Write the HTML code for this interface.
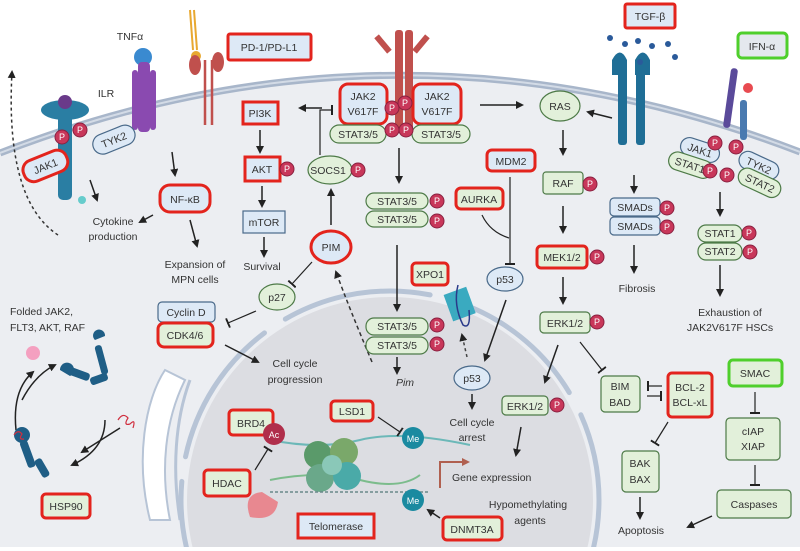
<!DOCTYPE html>
<html><head><meta charset="utf-8"><style>
html,body{margin:0;padding:0;background:#fff;width:800px;height:551px;overflow:hidden}
svg{display:block}
text{font-family:"Liberation Sans",sans-serif;font-size:10.5px;fill:#333}
.g{fill:#e2f0da;stroke:#4d7a47;stroke-width:1.2}
.b{fill:#dde9f6;stroke:#4a6a8a;stroke-width:1.2}
.rg{fill:#e2f0da;stroke:#e3241d;stroke-width:3}
.rb{fill:#dde9f6;stroke:#e3241d;stroke-width:3}
.gg{fill:#e2f0da;stroke:#4fcf2c;stroke-width:3}
.gb{fill:#e4e8ee;stroke:#4fcf2c;stroke-width:3}
.ar{stroke:#222;stroke-width:1.5;fill:none;marker-end:url(#ah)}
.inh{stroke:#222;stroke-width:1.2;fill:none;marker-end:url(#tb)}
.P{fill:#c8375a;stroke:#8a2040;stroke-width:1}
.pt{fill:#fff;font-size:9px;text-anchor:middle}
.c{text-anchor:middle}
</style></head><body>
<svg width="800" height="551" viewBox="0 0 800 551">
<defs>
<marker id="ah" markerWidth="8" markerHeight="8" refX="6" refY="4" orient="auto" markerUnits="userSpaceOnUse"><path d="M0,0 L8,4 L0,8 z" fill="#222"/></marker>
<marker id="tb" markerWidth="2" markerHeight="10" refX="1" refY="5" orient="auto" markerUnits="userSpaceOnUse"><rect x="0" y="0" width="2" height="10" fill="#222"/></marker>
<marker id="ahr" markerWidth="8" markerHeight="8" refX="6" refY="4" orient="auto" markerUnits="userSpaceOnUse"><path d="M0,0 L8,4 L0,8 z" fill="#b06050"/></marker>
</defs>
<rect width="800" height="551" fill="#fff"/>
<path d="M0,153 Q400,-2 800,152 L800,547 L0,547 z" fill="#eceef2"/>
<clipPath id="cl"><rect x="0" y="0" width="800" height="547"/></clipPath>
<g clip-path="url(#cl)">
<circle cx="390" cy="500" r="203" fill="#dcdde2"/>
<circle cx="390" cy="500" r="209" fill="none" stroke="#b7c4d6" stroke-width="5" stroke-dasharray="150 25" stroke-linecap="round"/>
</g>
<path d="M0,153 Q400,-2 800,152" fill="none" stroke="#a8b6ca" stroke-width="7"/>
<path d="M0,153 Q400,-2 800,152" fill="none" stroke="#d3dbe6" stroke-width="2"/>
<!-- ER -->
<path d="M165,370 C145,400 135,460 150,520 L170,520 C160,470 165,420 185,380 z" fill="#fff" stroke="#b7c4d6" stroke-width="2"/>
<path d="M190,380 C175,420 172,470 180,520" fill="none" stroke="#b7c4d6" stroke-width="3"/>
<!-- receptors -->
<g fill="#2a7ea3"><rect x="58" y="110" width="14" height="90" rx="5"/><ellipse cx="65" cy="110" rx="24" ry="10"/><circle cx="65" cy="102" r="7" fill="#6a3a8a"/><circle cx="82" cy="200" r="4" fill="#6cc"/></g>
<g fill="#8a4ab0"><circle cx="143" cy="57" r="9" fill="#3a8ad0"/><rect x="138" y="62" width="12" height="70" rx="4"/><rect x="132" y="70" width="6" height="60" rx="3"/><rect x="150" y="70" width="6" height="60" rx="3"/></g>
<g stroke="#e8a830" stroke-width="2" fill="none"><path d="M190,10 L193,50 M194,10 L197,50"/></g>
<circle cx="196" cy="56" r="5" fill="#e8a830"/>
<g stroke="#c0504d" stroke-width="2.5" fill="none"><path d="M205,60 L205,125 M212,60 L212,125"/></g>
<ellipse cx="195" cy="65" rx="6" ry="10" fill="#c0504d"/><ellipse cx="218" cy="62" rx="6" ry="10" fill="#c0504d"/>
<g fill="#c0504d"><rect x="395" y="30" width="8" height="100" rx="3"/><rect x="405" y="30" width="8" height="100" rx="3"/><rect x="380" y="34" width="6" height="20" transform="rotate(-40 383 44)"/><rect x="418" y="34" width="6" height="20" transform="rotate(40 421 44)"/></g>
<g fill="#1f6e96"><rect x="618" y="70" width="9" height="75" rx="3"/><rect x="636" y="70" width="9" height="75" rx="3"/><path d="M612,60 q8,-15 15,0 v15 h-15 z"/><path d="M635,60 q8,-15 15,0 v15 h-15 z"/></g>
<g fill="#2a5a9a"><circle cx="610" cy="38" r="3"/><circle cx="625" cy="44" r="3"/><circle cx="638" cy="41" r="3"/><circle cx="652" cy="46" r="3"/><circle cx="668" cy="44" r="3"/><circle cx="675" cy="57" r="3"/><circle cx="640" cy="62" r="3"/></g>
<g fill="#5a4a9a"><rect x="727" y="68" width="7" height="60" rx="3" transform="rotate(8 730 98)"/><rect x="740" y="100" width="7" height="40" rx="3" fill="#4a7ab0"/></g>
<circle cx="748" cy="88" r="5" fill="#e84a50"/>
<text x="130" y="40" class="c">TNFα</text>
<text x="106" y="97" class="c">ILR</text>
<rect x="228" y="34" width="83" height="26" rx="2" class="rb"/><text x="269" y="51" class="c">PD-1/PD-L1</text>
<rect x="625" y="4" width="50" height="24" rx="2" class="rb"/><text x="650" y="20" class="c">TGF-β</text>
<rect x="738" y="33" width="49" height="25" rx="4" class="gb"/><text x="762" y="50" class="c">IFN-α</text>
<g transform="rotate(-22 45 165)"><rect x="22" y="155" width="46" height="22" rx="10" class="rb"/><text x="45" y="170" class="c">JAK1</text></g>
<g transform="rotate(-22 113 140)"><rect x="92" y="130" width="44" height="20" rx="10" class="b"/><text x="114" y="144" class="c">TYK2</text></g>
<circle cx="62" cy="137" r="7" class="P"/><text x="62" y="140" class="pt">P</text>
<circle cx="80" cy="130" r="7" class="P"/><text x="80" y="133" class="pt">P</text>
<path d="M58,235 Q5,200 12,72" fill="none" stroke="#333" stroke-width="1.5" stroke-dasharray="3 3" marker-end="url(#ah)"/>
<line x1="90" y1="180" x2="97" y2="200" class="ar"/>
<text x="113" y="225" class="c">Cytokine</text><text x="113" y="240" class="c">production</text>
<line x1="153" y1="215" x2="140" y2="222" class="ar"/>
<line x1="172" y1="152" x2="175" y2="175" class="ar"/>
<rect x="160" y="185" width="50" height="27" rx="10" class="rb"/><text x="185" y="203" class="c">NF-κB</text>
<line x1="190" y1="220" x2="197" y2="246" class="ar"/>
<text x="195" y="268" class="c">Expansion of</text><text x="195" y="283" class="c">MPN cells</text>
<rect x="243" y="102" width="35" height="22" class="rb"/><text x="260" y="117" class="c">PI3K</text>
<line x1="322" y1="108" x2="300" y2="108" class="ar"/>
<line x1="260" y1="130" x2="260" y2="152" class="ar"/>
<rect x="245" y="157" width="35" height="24" class="rb"/><text x="262" y="173" class="c">AKT</text>
<circle cx="287" cy="169" r="7" class="P"/><text x="287" y="172" class="pt">P</text>
<line x1="262" y1="186" x2="262" y2="206" class="ar"/>
<rect x="243" y="211" width="42" height="22" class="b"/><text x="264" y="226" class="c">mTOR</text>
<line x1="264" y1="237" x2="264" y2="256" class="ar"/>
<text x="262" y="270" class="c">Survival</text>
<rect x="340" y="84" width="47" height="40" rx="8" class="rb"/><text x="363" y="100" class="c">JAK2</text><text x="363" y="115" class="c">V617F</text>
<rect x="413" y="84" width="48" height="40" rx="8" class="rb"/><text x="437" y="100" class="c">JAK2</text><text x="437" y="115" class="c">V617F</text>
<rect x="330" y="125" width="56" height="18" rx="9" class="g"/><text x="358" y="138" class="c">STAT3/5</text>
<rect x="412" y="125" width="58" height="18" rx="9" class="g"/><text x="441" y="138" class="c">STAT3/5</text>
<circle cx="392" cy="108" r="7" class="P"/><text x="392" y="111" class="pt">P</text>
<circle cx="405" cy="103" r="7" class="P"/><text x="405" y="106" class="pt">P</text>
<circle cx="392" cy="130" r="7" class="P"/><text x="392" y="133" class="pt">P</text>
<circle cx="406" cy="130" r="7" class="P"/><text x="406" y="133" class="pt">P</text>
<path d="M320,155 L320,110 L332,110" class="inh"/>
<ellipse cx="330" cy="170" rx="22" ry="14" class="g"/><text x="328" y="174" class="c">SOCS1</text>
<circle cx="358" cy="170" r="7" class="P"/><text x="358" y="173" class="pt">P</text>
<line x1="331" y1="225" x2="331" y2="190" class="ar"/>
<ellipse cx="331" cy="247" rx="20" ry="16" class="rb"/><text x="331" y="251" class="c">PIM</text>
<line x1="312" y1="262" x2="292" y2="284" class="inh"/>
<ellipse cx="277" cy="297" rx="18" ry="13" class="g"/><text x="277" y="301" class="c">p27</text>
<line x1="256" y1="311" x2="228" y2="323" class="inh"/>
<rect x="158" y="302" width="57" height="20" rx="4" class="b"/><text x="186" y="316" class="c">Cyclin D</text>
<rect x="158" y="323" width="55" height="24" rx="6" class="rg"/><text x="185" y="339" class="c">CDK4/6</text>
<line x1="225" y1="345" x2="258" y2="362" class="ar"/>
<text x="295" y="367" class="c">Cell cycle</text><text x="295" y="383" class="c">progression</text>
<path d="M372,362 Q350,310 336,272" fill="none" stroke="#333" stroke-width="1.5" stroke-dasharray="4 3" marker-end="url(#ah)"/>
<text x="10" y="315">Folded JAK2,</text><text x="10" y="331">FLT3, AKT, RAF</text>
<circle cx="33" cy="353" r="7" fill="#f4a0c0"/>
<!-- HSP90 cycle -->
<path d="M16,430 Q12,390 33,372" class="ar"/>
<path d="M22,400 Q35,375 55,365" class="ar"/>
<path d="M105,420 Q105,450 72,465" class="ar"/>
<path d="M120,428 L82,452" class="ar"/>
<g fill="#1f5e86">
<circle cx="22" cy="435" r="8"/><rect x="24" y="440" width="8" height="28" rx="3" transform="rotate(-20 28 455)"/><rect x="38" y="458" width="8" height="20" rx="3" transform="rotate(-30 42 468)"/>
<rect x="68" y="370" width="22" height="8" rx="3" transform="rotate(20 79 374)"/><rect x="90" y="375" width="18" height="8" rx="3" transform="rotate(-20 99 379)"/><rect x="98" y="345" width="7" height="30" rx="3" transform="rotate(-15 101 360)"/>
<path d="M60,370 a7,7 0 1 1 10,6 z"/><path d="M95,340 a6,6 0 1 1 10,-4 z"/>
</g>
<path d="M118,420 q5,-8 10,-2 q-5,8 2,6 q6,-6 3,4" fill="none" stroke="#d03040" stroke-width="1.2"/>
<path d="M14,435 q4,-6 8,-1 q-4,6 2,5" fill="none" stroke="#d03040" stroke-width="1.2"/>
<rect x="42" y="494" width="48" height="24" rx="4" class="rg"/><text x="66" y="510" class="c">HSP90</text>
<line x1="399" y1="148" x2="399" y2="182" class="ar"/>
<rect x="366" y="193" width="62" height="16" rx="8" class="g"/><text x="397" y="205" class="c">STAT3/5</text>
<rect x="366" y="211" width="62" height="16" rx="8" class="g"/><text x="397" y="223" class="c">STAT3/5</text>
<circle cx="437" cy="201" r="7" class="P"/><text x="437" y="204" class="pt">P</text>
<circle cx="437" cy="221" r="7" class="P"/><text x="437" y="224" class="pt">P</text>
<line x1="397" y1="245" x2="397" y2="310" class="ar"/>
<rect x="366" y="318" width="62" height="17" rx="8" class="g"/><text x="397" y="330" class="c">STAT3/5</text>
<rect x="366" y="337" width="62" height="17" rx="8" class="g"/><text x="397" y="349" class="c">STAT3/5</text>
<circle cx="437" cy="325" r="7" class="P"/><text x="437" y="328" class="pt">P</text>
<circle cx="437" cy="344" r="7" class="P"/><text x="437" y="347" class="pt">P</text>
<line x1="397" y1="357" x2="397" y2="373" class="ar"/>
<text x="405" y="386" font-style="italic" class="c">Pim</text>
<rect x="487" y="150" width="48" height="21" rx="5" class="rb"/><text x="511" y="165" class="c">MDM2</text>
<rect x="456" y="188" width="47" height="21" rx="5" class="rg"/><text x="479" y="203" class="c">AURKA</text>
<path d="M482,215 Q490,232 509,238" fill="none" stroke="#222" stroke-width="1.2"/>
<line x1="510" y1="177" x2="510" y2="264" class="inh"/>
<ellipse cx="505" cy="279" rx="18" ry="12" class="b"/><text x="505" y="283" class="c">p53</text>
<rect x="412" y="263" width="36" height="22" rx="4" class="rg"/><text x="430" y="278" class="c">XPO1</text>
<g transform="rotate(-20 460 305)"><rect x="448" y="290" width="24" height="28" fill="#3aaac0"/></g>
<path d="M458,285 q-5,20 5,40 q8,5 6,-15" fill="none" stroke="#2a3a8a" stroke-width="1.5"/>
<line x1="467" y1="357" x2="462" y2="335" stroke="#444" stroke-width="1.5" stroke-dasharray="3 3" marker-end="url(#ah)"/>
<line x1="506" y1="300" x2="485" y2="360" class="ar"/>
<ellipse cx="472" cy="378" rx="18" ry="12" class="b"/><text x="472" y="382" class="c">p53</text>
<line x1="472" y1="394" x2="472" y2="408" class="ar"/>
<text x="472" y="426" class="c">Cell cycle</text><text x="472" y="441" class="c">arrest</text>
<line x1="480" y1="105" x2="522" y2="105" class="ar"/>
<ellipse cx="560" cy="106" rx="20" ry="15" class="g"/><text x="560" y="110" class="c">RAS</text>
<line x1="612" y1="118" x2="588" y2="112" class="ar"/>
<line x1="563" y1="130" x2="563" y2="154" class="ar"/>
<rect x="543" y="172" width="40" height="22" rx="3" class="g"/><text x="563" y="187" class="c">RAF</text>
<circle cx="590" cy="184" r="7" class="P"/><text x="590" y="187" class="pt">P</text>
<line x1="563" y1="206" x2="563" y2="232" class="ar"/>
<rect x="537" y="246" width="50" height="22" rx="4" class="rg"/><text x="562" y="261" class="c">MEK1/2</text>
<circle cx="597" cy="257" r="7" class="P"/><text x="597" y="260" class="pt">P</text>
<line x1="563" y1="277" x2="563" y2="303" class="ar"/>
<rect x="540" y="312" width="50" height="21" rx="4" class="g"/><text x="565" y="327" class="c">ERK1/2</text>
<circle cx="597" cy="322" r="7" class="P"/><text x="597" y="325" class="pt">P</text>
<line x1="558" y1="345" x2="545" y2="382" class="ar"/>
<rect x="502" y="396" width="46" height="19" rx="4" class="g"/><text x="525" y="410" class="c">ERK1/2</text>
<circle cx="557" cy="405" r="7" class="P"/><text x="557" y="408" class="pt">P</text>
<line x1="521" y1="427" x2="516" y2="455" class="ar"/>
<path d="M440,488 L440,462 L468,462" fill="none" stroke="#b06050" stroke-width="2" marker-end="url(#ahr)"/>
<text x="452" y="481">Gene expression</text>
<text x="528" y="508" class="c">Hypomethylating</text><text x="530" y="524" class="c">agents</text>
<line x1="580" y1="342" x2="602" y2="370" class="inh"/>
<rect x="601" y="376" width="39" height="36" rx="4" class="g"/><text x="620" y="390" class="c">BIM</text><text x="620" y="406" class="c">BAD</text>
<line x1="662" y1="386" x2="648" y2="386" class="inh"/>
<line x1="647" y1="396" x2="661" y2="396" class="inh"/>
<rect x="668" y="373" width="44" height="44" rx="4" class="rg"/><text x="690" y="391" class="c">BCL-2</text><text x="690" y="406" class="c">BCL-xL</text>
<line x1="668" y1="422" x2="655" y2="443" class="inh"/>
<rect x="622" y="451" width="37" height="41" rx="4" class="g"/><text x="640" y="467" class="c">BAK</text><text x="640" y="483" class="c">BAX</text>
<line x1="640" y1="497" x2="640" y2="518" class="ar"/>
<text x="641" y="534" class="c">Apoptosis</text>
<rect x="729" y="360" width="53" height="26" rx="4" class="gg"/><text x="755" y="377" class="c">SMAC</text>
<line x1="755" y1="392" x2="755" y2="413" class="inh"/>
<rect x="726" y="418" width="54" height="42" rx="4" class="g"/><text x="753" y="435" class="c">cIAP</text><text x="753" y="450" class="c">XIAP</text>
<line x1="755" y1="465" x2="755" y2="485" class="inh"/>
<rect x="717" y="490" width="74" height="28" rx="4" class="g"/><text x="754" y="508" class="c">Caspases</text>
<line x1="712" y1="516" x2="688" y2="527" class="ar"/>
<line x1="634" y1="175" x2="634" y2="192" class="ar"/>
<rect x="610" y="198" width="50" height="18" rx="4" class="b"/><text x="635" y="211" class="c">SMADs</text>
<rect x="610" y="217" width="50" height="18" rx="4" class="b"/><text x="635" y="230" class="c">SMADs</text>
<circle cx="667" cy="208" r="7" class="P"/><text x="667" y="211" class="pt">P</text>
<circle cx="667" cy="227" r="7" class="P"/><text x="667" y="230" class="pt">P</text>
<line x1="634" y1="245" x2="634" y2="272" class="ar"/>
<text x="637" y="292" class="c">Fibrosis</text>
<g transform="rotate(18 700 150)"><rect x="680" y="141" width="40" height="18" rx="9" class="b"/><text x="700" y="154" class="c">JAK1</text></g>
<g transform="rotate(18 690 165)"><rect x="668" y="156" width="45" height="18" rx="9" class="g"/><text x="690" y="169" class="c">STAT1</text></g>
<g transform="rotate(25 758 165)"><rect x="738" y="156" width="42" height="18" rx="9" class="b"/><text x="759" y="169" class="c">TYK2</text></g>
<g transform="rotate(25 760 183)"><rect x="737" y="174" width="45" height="18" rx="9" class="g"/><text x="760" y="187" class="c">STAT2</text></g>
<circle cx="715" cy="143" r="7" class="P"/><text x="715" y="146" class="pt">P</text>
<circle cx="736" cy="147" r="7" class="P"/><text x="736" y="150" class="pt">P</text>
<circle cx="710" cy="171" r="7" class="P"/><text x="710" y="174" class="pt">P</text>
<circle cx="727" cy="175" r="7" class="P"/><text x="727" y="178" class="pt">P</text>
<line x1="720" y1="192" x2="720" y2="215" class="ar"/>
<rect x="698" y="225" width="44" height="17" rx="8" class="g"/><text x="720" y="237" class="c">STAT1</text>
<rect x="698" y="243" width="44" height="17" rx="8" class="g"/><text x="720" y="255" class="c">STAT2</text>
<circle cx="749" cy="233" r="7" class="P"/><text x="749" y="236" class="pt">P</text>
<circle cx="750" cy="252" r="7" class="P"/><text x="750" y="255" class="pt">P</text>
<line x1="720" y1="265" x2="720" y2="295" class="ar"/>
<text x="730" y="316" class="c">Exhaustion of</text><text x="730" y="331" class="c">JAK2V617F HSCs</text>
<path d="M270,440 Q320,450 360,440 T470,445" fill="none" stroke="#6cb8b8" stroke-width="2"/>
<path d="M270,480 Q320,470 360,480 T420,475" fill="none" stroke="#7cbc8c" stroke-width="2"/>
<g><circle cx="318" cy="455" r="14" fill="#5a9a6a"/><circle cx="344" cy="452" r="14" fill="#7aa86a"/><circle cx="320" cy="478" r="14" fill="#6aa88a"/><circle cx="347" cy="476" r="14" fill="#4aaaa8"/><circle cx="332" cy="465" r="10" fill="#8ac8b8"/></g>
<path d="M270,492 L430,492" stroke="#6a8a8a" stroke-width="1.5" stroke-dasharray="3 2"/>
<path d="M262,492 q-20,2 -12,25 q25,5 28,-15 z" fill="#e88890"/>
<rect x="229" y="410" width="44" height="25" rx="4" class="rg"/><text x="251" y="427" class="c">BRD4</text>
<circle cx="274" cy="434" r="11" fill="#b02e4b"/><text x="274" y="438" class="pt" font-size="10">Ac</text>
<line x1="255" y1="470" x2="268" y2="449" class="inh"/>
<rect x="204" y="470" width="46" height="26" rx="4" class="rg"/><text x="227" y="487" class="c">HDAC</text>
<rect x="331" y="401" width="42" height="20" rx="4" class="rg"/><text x="352" y="415" class="c">LSD1</text>
<line x1="378" y1="417" x2="400" y2="432" class="inh"/>
<circle cx="413" cy="438" r="11" fill="#1a8aa0"/><text x="413" y="442" class="pt" font-size="10">Me</text>
<circle cx="413" cy="500" r="11" fill="#1a8aa0"/><text x="413" y="504" class="pt" font-size="10">Me</text>
<line x1="440" y1="518" x2="428" y2="510" class="ar"/>
<rect x="443" y="517" width="59" height="23" rx="4" class="rg"/><text x="472" y="533" class="c">DNMT3A</text>
<rect x="298" y="514" width="76" height="24" class="rb"/><text x="336" y="530" class="c">Telomerase</text>
</svg>
</body></html>
